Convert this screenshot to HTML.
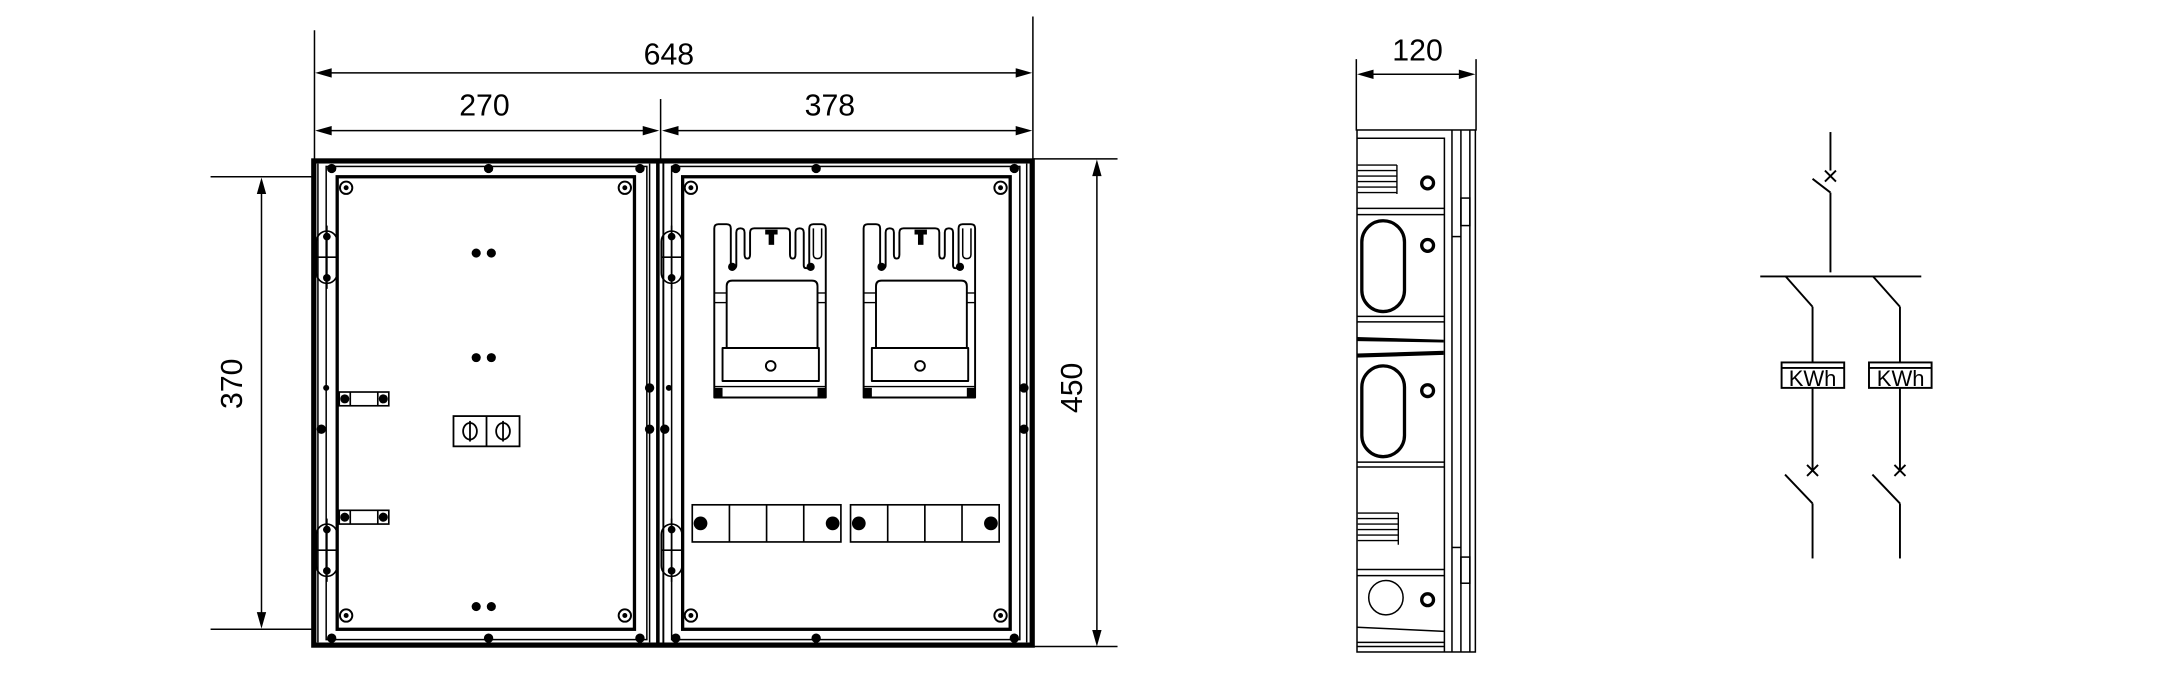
<!DOCTYPE html>
<html><head><meta charset="utf-8"><style>
html,body{margin:0;padding:0;background:#fff;}
svg{display:block;}
text{font-family:"Liberation Sans",sans-serif;fill:#000;}
</style></head><body>
<svg width="2158" height="696" viewBox="0 0 1568 506" preserveAspectRatio="none" xmlns="http://www.w3.org/2000/svg">
<defs>
<g id="ring"><circle r="4.5" fill="#fff" stroke="#000" stroke-width="1.4"/><circle r="1.8" fill="#000"/></g>
<g id="hinge" fill="none" stroke="#000" stroke-width="1.2">
 <rect x="0" y="0" width="15" height="38" rx="7.5"/>
 <line x1="0" y1="19" x2="15" y2="19"/>
 <line x1="7.5" y1="-4" x2="7.5" y2="42"/>
 <circle cx="7.5" cy="4" r="2.8" fill="#000" stroke="none"/>
 <circle cx="7.5" cy="34" r="2.8" fill="#000" stroke="none"/>
</g>
<g id="meter" fill="none" stroke="#000" stroke-width="1.4" stroke-linejoin="round">
 <path d="M0,126 V3 Q0,0 3,0 H9 Q12,0 12,3 V30 Q12,32 14,32 Q16,32 16,30 V6 Q16,3 19,3 Q22,3 22,6 V22 Q22,25 24,25 Q26,25 26,22 V6 Q26,3 29,3 H52 Q55,3 55,6 V22 Q55,25 57,25 Q59,25 59,22 V6 Q59,3 62,3 Q65,3 65,6 V30 Q65,32 67,32 Q69,32 69,30 V3 Q69,0 72,0 H78 Q81,0 81,3 V126 Z"/>
 <path d="M72,3 V22 Q72,25 75,25 Q78,25 78,22 V3" stroke-width="1.1"/>
 <rect x="37" y="4" width="9" height="3.5" fill="#000" stroke="none"/>
 <rect x="39.5" y="7" width="4" height="8" fill="#000" stroke="none"/>
 <circle cx="13" cy="31" r="3" fill="#000" stroke="none"/>
 <circle cx="70" cy="31" r="3" fill="#000" stroke="none"/>
 <path d="M9,90 V45 Q9,41 13,41 H71 Q75,41 75,45 V90"/>
 <line x1="0" y1="50" x2="9" y2="50" stroke-width="1"/><line x1="0" y1="57" x2="9" y2="57" stroke-width="1"/>
 <line x1="75" y1="50" x2="81" y2="50" stroke-width="1"/><line x1="75" y1="57" x2="81" y2="57" stroke-width="1"/>
 <rect x="6" y="90" width="70" height="24"/>
 <circle cx="41" cy="103" r="3.5"/>
 <line x1="0" y1="118" x2="81" y2="118" stroke-width="1"/>
 <rect x="0" y="119" width="6" height="7" fill="#000" stroke="none"/>
 <rect x="75" y="119" width="6" height="7" fill="#000" stroke="none"/>
</g>
<g id="term" fill="none" stroke="#000" stroke-width="1.2">
 <rect x="0" y="0" width="108" height="27"/>
 <line x1="27" y1="0" x2="27" y2="27"/><line x1="54" y1="0" x2="54" y2="27"/><line x1="81" y1="0" x2="81" y2="27"/>
 <circle cx="6" cy="13.5" r="5" fill="#000" stroke="none"/>
 <circle cx="102" cy="13.5" r="5" fill="#000" stroke="none"/>
</g>
<g id="blk" fill="none" stroke="#000" stroke-width="1.2">
 <rect x="0" y="0" width="36" height="10"/>
 <line x1="8" y1="0" x2="8" y2="10"/><line x1="28" y1="0" x2="28" y2="10"/>
 <circle cx="4" cy="5" r="3.3" fill="#000" stroke="none"/><circle cx="32" cy="5" r="3.3" fill="#000" stroke="none"/>
</g>
</defs>

<g stroke="#000" stroke-width="1.1" fill="none">
 <line x1="228.5" y1="22" x2="228.5" y2="116"/>
 <line x1="750.5" y1="12" x2="750.5" y2="116"/>
 <line x1="480" y1="72" x2="480" y2="116"/>
 <line x1="232" y1="53" x2="747" y2="53"/>
 <line x1="232" y1="95" x2="476" y2="95"/>
 <line x1="484" y1="95" x2="747" y2="95"/>
 <line x1="153" y1="128.5" x2="228" y2="128.5"/>
 <line x1="153" y1="457.5" x2="228" y2="457.5"/>
 <line x1="190" y1="132" x2="190" y2="454"/>
 <line x1="751" y1="115.5" x2="812" y2="115.5"/>
 <line x1="751" y1="470" x2="812" y2="470"/>
 <line x1="797" y1="119" x2="797" y2="467"/>
 <line x1="985.5" y1="43" x2="985.5" y2="95"/>
 <line x1="1072.5" y1="43" x2="1072.5" y2="95"/>
 <line x1="989" y1="54" x2="1069" y2="54"/>
</g>
<g fill="#000">
 <path d="M229,53 l12,-3.4 v6.8z"/><path d="M750,53 l-12,-3.4 v6.8z"/>
 <path d="M229,95 l12,-3.4 v6.8z"/><path d="M479,95 l-12,-3.4 v6.8z"/>
 <path d="M481,95 l12,-3.4 v6.8z"/><path d="M750,95 l-12,-3.4 v6.8z"/>
 <path d="M190,129 l-3.4,12 h6.8z"/><path d="M190,457 l-3.4,-12 h6.8z"/>
 <path d="M797,116 l-3.4,12 h6.8z"/><path d="M797,470 l-3.4,-12 h6.8z"/>
 <path d="M986,54 l12,-3.4 v6.8z"/><path d="M1072,54 l-12,-3.4 v6.8z"/>
</g>
<g font-size="22">
 <text x="486" y="47" text-anchor="middle">648</text>
 <text x="352" y="84" text-anchor="middle">270</text>
 <text x="603" y="84" text-anchor="middle">378</text>
 <text x="1030" y="44" text-anchor="middle">120</text>
 <text transform="translate(176,279) rotate(-90)" text-anchor="middle">370</text>
 <text transform="translate(786,282) rotate(-90)" text-anchor="middle">450</text>
</g>

<g fill="none" stroke="#000">
 <rect x="228" y="117" width="522" height="352" stroke-width="3.8"/>
 <line x1="478" y1="117" x2="478" y2="469" stroke-width="2.6"/>
 <line x1="482" y1="117" x2="482" y2="469" stroke-width="1.4"/>
 <rect x="237" y="121" width="233" height="344" stroke-width="1.1"/>
 <line x1="231" y1="119" x2="231" y2="467" stroke-width="1.1"/>
 <rect x="245" y="128.5" width="216" height="329" stroke-width="2.4"/>
 <line x1="472" y1="119" x2="472" y2="467" stroke-width="1.1"/>
 <rect x="488" y="121" width="253" height="344" stroke-width="1.1"/>
 <line x1="746" y1="119" x2="746" y2="467" stroke-width="1.1"/>
 <rect x="496" y="128.5" width="238" height="329" stroke-width="2.4"/>
</g>
<g fill="#000">
 <circle cx="241" cy="122.5" r="3.4"/><circle cx="355" cy="122.5" r="3.4"/><circle cx="465" cy="122.5" r="3.4"/>
 <circle cx="241" cy="464" r="3.4"/><circle cx="355" cy="464" r="3.4"/><circle cx="465" cy="464" r="3.4"/>
 <circle cx="491" cy="122.5" r="3.4"/><circle cx="593" cy="122.5" r="3.4"/><circle cx="737" cy="122.5" r="3.4"/>
 <circle cx="491" cy="464" r="3.4"/><circle cx="593" cy="464" r="3.4"/><circle cx="737" cy="464" r="3.4"/>
 <circle cx="237" cy="282" r="2.2"/><circle cx="233.5" cy="312" r="3.4"/>
 <circle cx="472" cy="282" r="3.4"/><circle cx="472" cy="312" r="3.4"/>
 <circle cx="486" cy="282" r="2.2"/><circle cx="483" cy="312" r="3.4"/>
 <circle cx="744" cy="282" r="3.4"/><circle cx="744" cy="312" r="3.4"/>
 <circle cx="346" cy="184" r="3.3"/><circle cx="357" cy="184" r="3.3"/>
 <circle cx="346" cy="260" r="3.3"/><circle cx="357" cy="260" r="3.3"/>
 <circle cx="346" cy="441" r="3.3"/><circle cx="357" cy="441" r="3.3"/>
</g>
<use href="#ring" x="251.5" y="136.5"/><use href="#ring" x="454" y="136.5"/>
<use href="#ring" x="251.5" y="447.5"/><use href="#ring" x="454" y="447.5"/>
<use href="#ring" x="502" y="136.5"/><use href="#ring" x="727" y="136.5"/>
<use href="#ring" x="502" y="447.5"/><use href="#ring" x="727" y="447.5"/>
<use href="#hinge" x="230" y="168"/><use href="#hinge" x="230" y="381"/>
<use href="#hinge" x="480.5" y="168"/><use href="#hinge" x="480.5" y="381"/>
<use href="#blk" x="246.5" y="285"/><use href="#blk" x="246.5" y="371"/>
<g fill="none" stroke="#000" stroke-width="1.3">
 <rect x="329.5" y="302.5" width="48" height="22"/>
 <line x1="353.5" y1="302.5" x2="353.5" y2="324.5"/>
 <ellipse cx="341.5" cy="313.5" rx="5" ry="6"/><line x1="341.5" y1="306" x2="341.5" y2="321"/>
 <ellipse cx="365.5" cy="313.5" rx="5" ry="6"/><line x1="365.5" y1="306" x2="365.5" y2="321"/>
</g>
<use href="#meter" x="519" y="163"/><use href="#meter" x="627.5" y="163"/>
<use href="#term" x="503" y="367"/><use href="#term" x="618" y="367"/>

<g fill="none" stroke="#000" stroke-width="1.1">
 <rect x="986" y="94.5" width="86" height="379.5"/>
 <line x1="1049.5" y1="100" x2="1049.5" y2="474"/>
 <line x1="1055" y1="94.5" x2="1055" y2="474"/>
 <line x1="1061.5" y1="94.5" x2="1061.5" y2="474"/>
 <line x1="1068" y1="94.5" x2="1068" y2="474"/>
 <line x1="1055" y1="172" x2="1061.5" y2="172"/>
 <line x1="1055" y1="398" x2="1061.5" y2="398"/>
 <rect x="1061.5" y="144" width="6.5" height="20"/>
 <rect x="1061.5" y="405" width="6.5" height="19"/>
 <line x1="986" y1="100.5" x2="1049.5" y2="100.5"/>
 <line x1="986" y1="151.5" x2="1049.5" y2="151.5"/>
 <line x1="986" y1="156" x2="1049.5" y2="156"/>
 <line x1="986" y1="230" x2="1049.5" y2="230"/>
 <line x1="986" y1="234" x2="1049.5" y2="234"/>
 <line x1="986" y1="336" x2="1049.5" y2="336"/>
 <line x1="986" y1="339.5" x2="1049.5" y2="339.5"/>
 <line x1="986" y1="414" x2="1049.5" y2="414"/>
 <line x1="986" y1="418.5" x2="1049.5" y2="418.5"/>
 <line x1="986" y1="456" x2="1049.5" y2="459"/>
 <line x1="986" y1="467" x2="1049.5" y2="467"/>
 <line x1="986" y1="470" x2="1049.5" y2="470"/>
 <rect x="989.5" y="160.5" width="31" height="66" rx="15.5" stroke-width="2.4"/>
 <rect x="989.5" y="266" width="31" height="66" rx="15.5" stroke-width="2.4"/>
 <circle cx="1007" cy="434.5" r="12.5"/>
</g>
<g fill="#000">
 <path d="M986,245 L1049,247 L1049,249 L986,248z"/>
 <path d="M986,257 L1049,255 L1049,258 L986,260z"/>
</g>
<g stroke="#000" stroke-width="1" fill="none">
 <path d="M986.5,120 H1015 M986.5,124 H1015 M986.5,128 H1015 M986.5,132 H1015 M986.5,136 H1015 M986.5,140 H1015 M1015,120 V141"/>
 <path d="M986.5,373 H1016 M986.5,377 H1016 M986.5,381 H1016 M986.5,385 H1016 M986.5,389 H1016 M986.5,393 H1016 M1016,373 V396"/>
</g>
<g fill="#fff" stroke="#000" stroke-width="2.4">
 <circle cx="1037.3" cy="133" r="4.3"/><circle cx="1037.3" cy="178.4" r="4.3"/>
 <circle cx="1037.3" cy="284" r="4.3"/><circle cx="1037.3" cy="436" r="4.3"/>
</g>

<g stroke="#000" stroke-width="1.4" fill="none">
 <line x1="1330" y1="96" x2="1330" y2="124"/>
 <path d="M1326,124 l8,8 M1334,124 l-8,8"/>
 <line x1="1317" y1="130" x2="1330" y2="140"/>
 <line x1="1330" y1="140" x2="1330" y2="198"/>
 <line x1="1279" y1="201" x2="1396" y2="201"/>
 <line x1="1297.5" y1="201" x2="1317" y2="223"/>
 <line x1="1317" y1="223" x2="1317" y2="263"/>
 <line x1="1361" y1="201" x2="1380.5" y2="223"/>
 <line x1="1380.5" y1="223" x2="1380.5" y2="263"/>
 <rect x="1294.5" y="263.5" width="45.5" height="18.5"/>
 <line x1="1294.5" y1="267.5" x2="1340" y2="267.5"/>
 <rect x="1358" y="263.5" width="45.5" height="18.5"/>
 <line x1="1358" y1="267.5" x2="1403.5" y2="267.5"/>
 <line x1="1317" y1="282" x2="1317" y2="342"/>
 <line x1="1380.5" y1="282" x2="1380.5" y2="342"/>
 <path d="M1313,338 l8,8 M1321,338 l-8,8"/>
 <path d="M1376.5,338 l8,8 M1384.5,338 l-8,8"/>
 <line x1="1297" y1="345" x2="1317" y2="366"/>
 <line x1="1317" y1="366" x2="1317" y2="406"/>
 <line x1="1360.5" y1="345" x2="1380.5" y2="366"/>
 <line x1="1380.5" y1="366" x2="1380.5" y2="406"/>
</g>
<g font-size="16">
 <text x="1317" y="280.5" text-anchor="middle">KWh</text>
 <text x="1381" y="280.5" text-anchor="middle">KWh</text>
</g>
</svg>
</body></html>
